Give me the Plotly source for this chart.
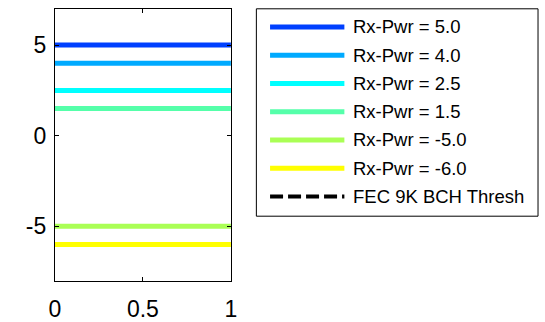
import plotly.graph_objects as go

# Received-power levels and their line colours (jet-like ramp)
rx_pwr = [5.0, 4.0, 2.5, 1.5, -5.0, -6.0]
line_colors = ["#0040ff", "#00aaff", "#00ffff", "#55ffaa", "#aaff55", "#ffff00"]
x_span = [0, 1]
series_labels = [f"Rx-Pwr = {v:.1f}" for v in rx_pwr]
fec_label = "FEC 9K BCH Thresh"

x_ticks = [0, 0.5, 1]
x_tick_text = ["0", "0.5", "1"]
y_ticks = [-5, 0, 5]
y_tick_text = ["-5", "0", "5"]

W, H = 545, 322
FONT = "Liberation Sans, Arial, sans-serif"


def px(x):
    return x / W


def py(y):
    return 1 - y / H


fig = go.Figure()
for v, c, lab in zip(rx_pwr, line_colors, series_labels):
    fig.add_trace(go.Scatter(x=x_span, y=[v, v], mode="lines",
                             line=dict(color=c, width=5), name=lab,
                             showlegend=False, hoverinfo="skip"))

# Hand-built legend box to the right of the axes
shapes = [dict(type="rect", xref="paper", yref="paper",
               x0=px(256), x1=px(544), y0=py(221), y1=py(9),
               line=dict(color="black", width=1), fillcolor="white", layer="below")]
annotations = []
row0, row_step = 27.5, 28.9
entries = list(zip(series_labels, line_colors, ["solid"] * len(series_labels), [5] * len(series_labels)))
entries.append((fec_label, "black", "13px,5px", 4))
for i, (lab, c, dash, w) in enumerate(entries):
    yy = row0 + i * row_step
    shapes.append(dict(type="line", xref="paper", yref="paper",
                       x0=px(270), x1=px(346), y0=py(yy), y1=py(yy),
                       line=dict(color=c, width=w, dash=dash)))
    annotations.append(dict(xref="paper", yref="paper", x=px(353), y=py(yy),
                            text=lab, showarrow=False, xanchor="left", yanchor="middle",
                            font=dict(family=FONT, size=18.5, color="black")))

axis_common = dict(showline=True, linecolor="black", linewidth=1, mirror="ticks",
                   ticks="inside", ticklen=4, tickcolor="black", showgrid=False,
                   zeroline=False, tickfont=dict(family=FONT, size=23, color="black"))

fig.update_layout(
    width=W, height=H, margin=dict(l=0, r=0, t=0, b=0),
    paper_bgcolor="white", plot_bgcolor="white",
    xaxis=dict(domain=[px(50), px(230)], range=[0, 1], tickvals=x_ticks,
               ticktext=x_tick_text, ticklabelstandoff=8, **axis_common),
    yaxis=dict(domain=[py(287), py(9)], range=[-8, 7], tickvals=y_ticks,
               ticktext=y_tick_text, ticklabelstandoff=3, **axis_common),
    shapes=shapes, annotations=annotations, showlegend=False,
)

fig.write_html("out.html")
